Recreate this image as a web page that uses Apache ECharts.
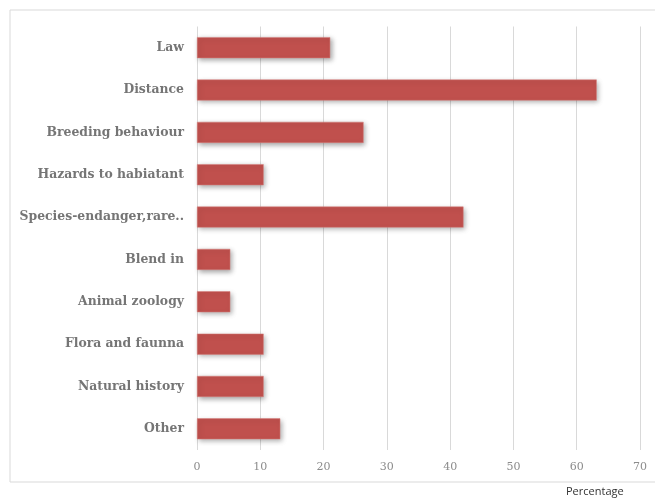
<!DOCTYPE html>
<html>
<head>
<meta charset="utf-8">
<script src="https://cdn.jsdelivr.net/npm/echarts@6/dist/echarts.min.js"></script>
<style>html,body{margin:0;padding:0;background:#fff}#c{width:655px;height:498px}</style>
</head>
<body>
<div id="c"></div>
<script>
const categories = ["Law","Distance","Breeding behaviour","Hazards to habiatant","Species-endanger,rare..","Blend in","Animal zoology","Flora and faunna","Natural history","Other"];
const values = [21.05, 63.16, 26.32, 10.53, 42.11, 5.26, 5.26, 10.53, 10.53, 13.16];
const xTicks = [0, 10, 20, 30, 40, 50, 60, 70];
const xAxisTitle = "Percentage";

const chart = echarts.init(document.getElementById('c'), null, {renderer: 'canvas'});
chart.setOption({
  animation: false,
  backgroundColor: '#fff',
  grid: {left: 197, right: 15, top: 26.5, bottom: 48, containLabel: false},
  graphic: [
    {type: 'rect', shape: {x: 10, y: 10, width: 660, height: 472}, style: {fill: 'none', stroke: '#D9D9D9', lineWidth: 1}, z: -1},
    {type: 'text', left: 566, top: 486, style: {text: xAxisTitle, font: '11px "Open Sans", sans-serif', fill: '#333'}}
  ],
  xAxis: {
    type: 'value', min: xTicks[0], max: xTicks[xTicks.length - 1], interval: 10,
    axisLine: {show: false}, axisTick: {show: false},
    splitLine: {show: true, lineStyle: {color: '#D9D9D9', width: 1}},
    axisLabel: {color: '#8C8C8C', fontFamily: '"DejaVu Serif", serif', fontSize: 11, margin: 12}
  },
  yAxis: {
    type: 'category', data: categories, inverse: true,
    axisLine: {show: false}, axisTick: {show: false},
    axisLabel: {color: '#757575', fontFamily: '"DejaVu Serif", serif', fontWeight: 'bold', fontSize: 12.4, margin: 13}
  },
  series: [{
    type: 'bar', data: values, barWidth: 21,
    itemStyle: {color: '#C0504D', borderColor: '#D9807E', borderWidth: 0.5, shadowBlur: 5, shadowColor: 'rgba(0,0,0,0.35)', shadowOffsetX: 2, shadowOffsetY: 2}
  }]
});
</script>
</body>
</html>
